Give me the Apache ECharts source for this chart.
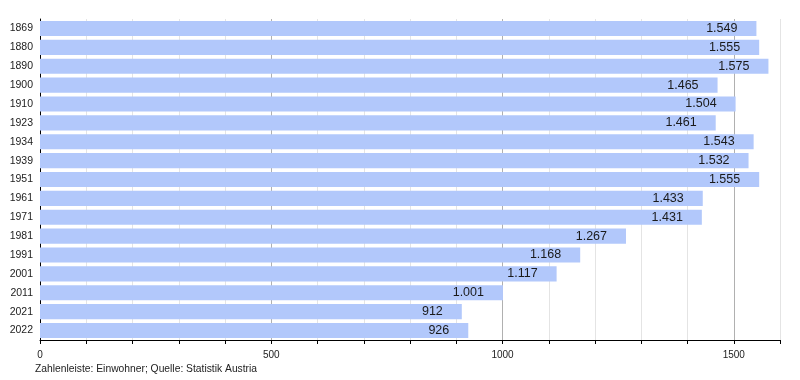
<!DOCTYPE html>
<html><head><meta charset="utf-8">
<script src="https://cdn.jsdelivr.net/npm/echarts@6/dist/echarts.min.js"></script>
<style>html,body{margin:0;padding:0;background:#fff}#c{width:800px;height:380px}</style>
</head><body><div id="c"></div>
<script>
const years = ['1869','1880','1890','1900','1910','1923','1934','1939','1951','1961','1971','1981','1991','2001','2011','2021','2022'];
const population = [1549,1555,1575,1465,1504,1461,1543,1532,1555,1433,1431,1267,1168,1117,1001,912,926];
const xTickLabels = [0,500,1000,1500];
const caption = 'Zahlenleiste: Einwohner; Quelle: Statistik Austria';

function fmt(v){
  const s = String(v);
  return s.length > 3 ? s.slice(0, s.length-3) + '.' + s.slice(-3) : s;
}
const font = '"Liberation Sans", Arial, sans-serif';
const chart = echarts.init(document.getElementById('c'));
chart.setOption({
  animation:false,
  textStyle:{fontFamily:font},
  grid:{left:40,right:20,top:19,bottom:40},
  xAxis:{
    type:'value',min:0,max:1600,interval:100,
    axisLine:{show:true,lineStyle:{color:'#000',width:1}},
    axisTick:{show:true,length:4,lineStyle:{color:'#000'}},
    axisLabel:{color:'#222',fontSize:10,fontFamily:font,margin:10,
      formatter:v=> xTickLabels.indexOf(v)>=0 ? String(v) : ''},
    splitLine:{show:true,lineStyle:{color:['#b0b0b0','#e4e4e4','#e4e4e4','#e4e4e4','#e4e4e4'],width:1}}
  },
  yAxis:{
    type:'category',data:years,inverse:true,
    axisLine:{show:true,lineStyle:{color:'#000',width:1}},
    axisTick:{show:false},
    axisLabel:{color:'#222',fontSize:10.5,fontFamily:font,margin:7}
  },
  series:[{
    type:'bar',data:population,barCategoryGap:'20%',
    itemStyle:{color:'#b2c8fb'},
    label:{show:true,position:'insideRight',distance:19,color:'#1a1a1a',fontSize:12.5,fontFamily:font,
      formatter:p=>fmt(p.value)}
  }],
  graphic:[{type:'text',left:35,top:364,style:{text:caption,fontSize:10.3,fill:'#222',fontFamily:font}}]
});
</script></body></html>
